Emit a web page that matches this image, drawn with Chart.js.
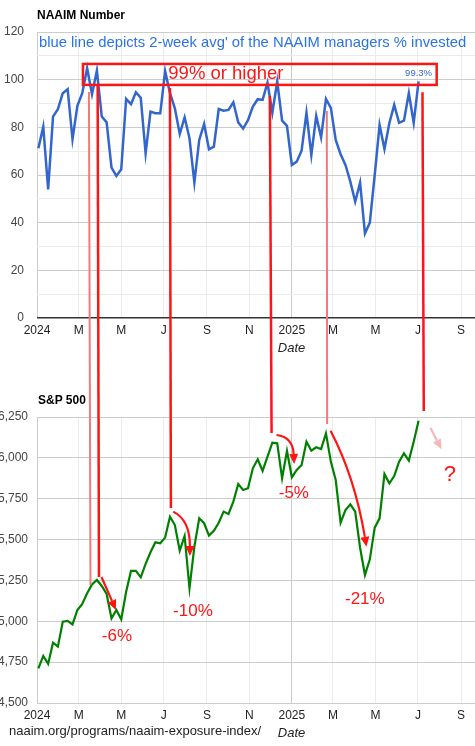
<!DOCTYPE html>
<html>
<head>
<meta charset="utf-8">
<title>NAAIM Number vs S&amp;P 500</title>
<script src="https://cdn.jsdelivr.net/npm/chart.js@4.4.1/dist/chart.umd.min.js"></script>
<style>
    html, body { margin: 0; padding: 0; background: #fff; }
    body { width: 475px; height: 746px; overflow: hidden; position: relative; font-family: Arial, "Liberation Sans", sans-serif; }
    canvas { position: absolute; left: 0; }
    #naaimChart { top: 0; }
    #spxChart { top: 380px; }
    #overlay { top: 0; pointer-events: none; }
    .lbl { position: absolute; white-space: nowrap; }
</style>
</head>
<body>
<canvas id="naaimChart" width="546" height="360"></canvas>
<canvas id="spxChart" width="546" height="366"></canvas>
<canvas id="overlay"></canvas>
<div class="lbl" style="left:37px; top:8px; font-size:12px; line-height:14px; font-weight:bold; color:#000;">NAAIM Number</div>
<div class="lbl" style="left:39px; top:34px; font-size:14.8px; line-height:17px; color:#2a73e6;">blue line depicts 2-week avg' of the NAAIM managers % invested</div>
<div class="lbl" style="left:38px; top:393px; font-size:12px; line-height:14px; font-weight:bold; color:#000;">S&amp;P 500</div>
<div class="lbl" style="left:9px; top:723px; font-size:13px; line-height:15px; color:#222;">naaim.org/programs/naaim-exposure-index/</div>
<script>
document.addEventListener('DOMContentLoaded', () => {
    const FONT = 'Arial, "Liberation Sans", sans-serif';

    // Weekly dates (Wednesdays)
    const weekDates = [
        '2024-01-03', '2024-01-10', '2024-01-17', '2024-01-24', '2024-01-31',
        '2024-02-07', '2024-02-14', '2024-02-21', '2024-02-28',
        '2024-03-06', '2024-03-13', '2024-03-20', '2024-03-27',
        '2024-04-03', '2024-04-10', '2024-04-17', '2024-04-24',
        '2024-05-01', '2024-05-08', '2024-05-15', '2024-05-22', '2024-05-29',
        '2024-06-05', '2024-06-12', '2024-06-19', '2024-06-26',
        '2024-07-03', '2024-07-10', '2024-07-17', '2024-07-24', '2024-07-31',
        '2024-08-07', '2024-08-14', '2024-08-21', '2024-08-28',
        '2024-09-04', '2024-09-11', '2024-09-18', '2024-09-25',
        '2024-10-02', '2024-10-09', '2024-10-16', '2024-10-23', '2024-10-30',
        '2024-11-06', '2024-11-13', '2024-11-20', '2024-11-27',
        '2024-12-04', '2024-12-11', '2024-12-18', '2024-12-25',
        '2025-01-01', '2025-01-08', '2025-01-15', '2025-01-22', '2025-01-29',
        '2025-02-05', '2025-02-12', '2025-02-19', '2025-02-26',
        '2025-03-05', '2025-03-12', '2025-03-19', '2025-03-26',
        '2025-04-02', '2025-04-09', '2025-04-16', '2025-04-23', '2025-04-30',
        '2025-05-07', '2025-05-14', '2025-05-21', '2025-05-28',
        '2025-06-04', '2025-06-11', '2025-06-18', '2025-06-25',
        '2025-07-02'
    ];

    // NAAIM exposure (2-week avg)
    const naaimValues = [
        71.2, 80.3, 54, 84.5, 87.6, 94.3, 96, 75, 89, 94.3,
        104.8, 93.9, 103.8, 84.5, 82.1, 63.1, 59.6, 62.4, 91.9, 89.7,
        94.7, 92.4, 69.1, 86.6, 85.9, 85.9, 103.6, 94.3, 88, 77.2,
        84.2, 75.4, 56.8, 74.7, 81.4, 70.8, 71.9, 87.7, 87, 87.3,
        90.5, 82.1, 79.5, 83, 88.7, 91.8, 91.5, 98.7, 86.1, 99.2,
        82.8, 80.6, 64.2, 65.6, 70.2, 86.1, 68.4, 84.8, 75.8, 91.9,
        88.2, 74.7, 68.7, 64.2, 57.2, 48.8, 56.8, 35.5, 40, 60,
        81, 70.9, 81.7, 89.4, 81.9, 82.8, 94.3, 81.9, 99.3
    ];

    // S&P 500 weekly closes
    const spxValues = [
        4712, 4788, 4739, 4869, 4845, 4997, 5002, 4981, 5069, 5106,
        5171, 5226, 5253, 5216, 5167, 5018, 5069, 5012, 5181, 5308,
        5308, 5269, 5351, 5422, 5483, 5477, 5512, 5640, 5589, 5432,
        5522, 5202, 5457, 5630, 5600, 5524, 5554, 5603, 5671, 5657,
        5732, 5840, 5803, 5814, 5936, 5991, 5920, 6007, 6093, 6089,
        5875, 6042, 5881, 5926, 5956, 6099, 6044, 6065, 6054, 6150,
        5977, 5865, 5603, 5681, 5716, 5671, 5450, 5283, 5379, 5573,
        5630, 5901, 5844, 5889, 5977, 6028, 5983, 6099, 6227
    ];

    // x axis ticks
    const tickDates = ['2024-01-01', '2024-03-01', '2024-05-01', '2024-07-01', '2024-09-01', '2024-11-01',
                       '2025-01-01', '2025-03-01', '2025-05-01', '2025-07-01', '2025-09-01', '2025-11-01'];
    const tickLabels = ['2024', 'M', 'M', 'J', 'S', 'N', '2025', 'M', 'M', 'J', 'S', 'N'];

    const naaimTicks = { min: 0, max: 120, step: 10, labelStep: 20 };
    const spxTicks = { min: 4500, max: 6250, step: 250 };

    // days since 2024-01-01
    const BASE = Date.UTC(2024, 0, 1);
    function toDay(s) {
        const [y, m, d] = s.split('-').map(Number);
        return (Date.UTC(y, m - 1, d) - BASE) / 864e5;
    }
    const weekDays = weekDates.map(toDay);
    const tickDays = tickDates.map(toDay);
    const X_MIN = toDay('2024-01-01');
    const X_MAX = toDay('2026-01-01');

    const SPX_TOP = 380; // page offset of the lower canvas

    function xAxis(height, titlePad) {
        return {
            type: 'linear',
            min: X_MIN,
            max: X_MAX,
            afterBuildTicks: s => { s.ticks = tickDays.map(v => ({ value: v })); },
            afterFit: s => { s.height = height; },
            ticks: {
                autoSkip: false, maxRotation: 0, padding: 5, color: '#222',
                font: { size: 12, family: FONT },
                callback: (v, i) => tickLabels[i]
            },
            grid: {
                drawTicks: false,
                color: c => (tickLabels[c.index] || '').length === 4 ? '#cccccc' : '#ebebeb'
            },
            border: { display: false },
            title: {
                display: true, text: 'Date', color: '#222',
                font: { size: 13, style: 'italic', family: FONT },
                padding: { top: 0, bottom: titlePad }
            }
        };
    }

    // "99.3%" label on the last point
    const lastValueLabel = {
        id: 'lastValueLabel',
        afterDatasetsDraw(chart) {
            const meta = chart.getDatasetMeta(0);
            const pt = meta.data[meta.data.length - 1];
            const ctx = chart.ctx;
            ctx.save();
            ctx.font = '9.5px ' + FONT;
            ctx.fillStyle = '#3366cc';
            ctx.textAlign = 'center';
            ctx.textBaseline = 'bottom';
            ctx.fillText(naaimValues[naaimValues.length - 1].toFixed(1) + '%', pt.x, pt.y - 3);
            ctx.restore();
        }
    };

    const naaimChart = new Chart(document.getElementById('naaimChart'), {
        type: 'line',
        data: {
            datasets: [{
                data: weekDays.map((d, i) => ({ x: d, y: naaimValues[i] })),
                borderColor: '#3366cc',
                borderWidth: 2.5,
                pointRadius: 0,
                tension: 0,
                fill: false
            }]
        },
        options: {
            responsive: false,
            animation: false,
            layout: { padding: { top: 32, left: 0, right: 0, bottom: 0 } },
            plugins: { legend: { display: false }, tooltip: { enabled: false } },
            scales: {
                x: xAxis(42, 4),
                y: {
                    min: naaimTicks.min, max: naaimTicks.max,
                    afterFit: s => { s.width = 37; },
                    ticks: {
                        stepSize: naaimTicks.step, padding: 13, color: '#444',
                        font: { size: 12, family: FONT },
                        callback: v => (v % naaimTicks.labelStep === 0 ? v : '')
                    },
                    grid: {
                        drawTicks: false,
                        color: c => c.tick.value === 0 ? '#333333' : (c.tick.value % naaimTicks.labelStep === 0 ? '#cccccc' : '#ebebeb'),
                        lineWidth: c => c.tick.value === 0 ? 1.5 : 1
                    },
                    border: { display: false }
                }
            }
        },
        plugins: [lastValueLabel]
    });

    const spxChart = new Chart(document.getElementById('spxChart'), {
        type: 'line',
        data: {
            datasets: [{
                data: weekDays.map((d, i) => ({ x: d, y: spxValues[i] })),
                borderColor: '#008000',
                borderWidth: 2.2,
                pointRadius: 0,
                tension: 0,
                fill: false
            }]
        },
        options: {
            responsive: false,
            animation: false,
            layout: { padding: { top: 37, left: 0, right: 0, bottom: 0 } },
            plugins: { legend: { display: false }, tooltip: { enabled: false } },
            scales: {
                x: xAxis(43, 5),
                y: {
                    min: spxTicks.min, max: spxTicks.max,
                    afterFit: s => { s.width = 37; },
                    ticks: {
                        stepSize: spxTicks.step, padding: 9, color: '#444',
                        font: { size: 12, family: FONT },
                        callback: v => v.toLocaleString('en-US')
                    },
                    grid: { drawTicks: false, color: '#cccccc' },
                    border: { display: false }
                }
            }
        }
    });

    // Hand-drawn style annotations, placed in data coordinates
    const RED = '#ff1414';
    const LIGHT = '#f27a7a';
    const PINK = '#f5b8b8';

    // vertical links: [day, naaim value] -> [day, s&p value]
    const links = [
        { top: [74.6, 94.8], bot: [76.8, 5222], color: LIGHT, w: 2 },
        { top: [87.1, 98.0], bot: [89.0, 5271], color: RED, w: 2.5 },
        { top: [190.9, 96.5], bot: [192.3, 5693], color: RED, w: 2.5 },
        { top: [334.4, 93.1], bot: [336.9, 6152], color: RED, w: 2.5 },
        { top: [416.2, 86.9], bot: [416.7, 6207], color: LIGHT, w: 2 },
        { top: [553.6, 94.7], bot: [555.5, 6287], color: RED, w: 2.5 }
    ];

    // arrows on the s&p chart: from, optional control, to
    const arrows = [
        { from: [92.6, 5271], to: [113.4, 5069], color: RED },
        { from: [195.6, 5671], ctrl: [219.6, 5620], to: [219.6, 5400], color: RED },
        { from: [344.0, 6140], ctrl: [367.4, 6128], to: [369.3, 5962], color: RED },
        { from: [421.6, 6166], ctrl: [456.4, 5883], to: [473.2, 5456], color: RED },
        { from: [565.1, 6183], to: [580.9, 6052], color: PINK }
    ];

    const drops = [
        { text: '-6%', at: [114.8, 4905], size: 17 },
        { text: '-10%', at: [223.9, 5060], size: 17 },
        { text: '-5%', at: [368.9, 5785], size: 17 },
        { text: '-21%', at: [470.8, 5135], size: 17 },
        { text: '?', at: [592.8, 5895], size: 22 }
    ];

    const highBox = { days: [66, 574], values: [97.8, 106.6], text: '99% or higher', textDay: 271.3, textValue: 100.1 };

    function drawOverlay() {
        const cv = document.getElementById('overlay');
        const dpr = window.devicePixelRatio || 1;
        cv.width = 546 * dpr;
        cv.height = 746 * dpr;
        cv.style.width = '546px';
        cv.style.height = '746px';
        const ctx = cv.getContext('2d');
        ctx.scale(dpr, dpr);

        const TX = d => naaimChart.scales.x.getPixelForValue(d);
        const TY = v => naaimChart.scales.y.getPixelForValue(v);
        const BX = d => spxChart.scales.x.getPixelForValue(d);
        const BY = v => SPX_TOP + spxChart.scales.y.getPixelForValue(v);

        ctx.lineCap = 'butt';

        // box
        ctx.strokeStyle = RED;
        ctx.lineWidth = 2.5;
        const x0 = TX(highBox.days[0]), x1 = TX(highBox.days[1]);
        const y0 = TY(highBox.values[1]), y1 = TY(highBox.values[0]);
        ctx.strokeRect(x0, y0, x1 - x0, y1 - y0);
        ctx.fillStyle = RED;
        ctx.font = '18.5px ' + FONT;
        ctx.textAlign = 'center';
        ctx.textBaseline = 'alphabetic';
        ctx.fillText(highBox.text, TX(highBox.textDay), TY(highBox.textValue));

        // links
        links.forEach(l => {
            ctx.strokeStyle = l.color;
            ctx.lineWidth = l.w;
            ctx.beginPath();
            ctx.moveTo(TX(l.top[0]), TY(l.top[1]));
            ctx.lineTo(BX(l.bot[0]), BY(l.bot[1]));
            ctx.stroke();
        });

        // arrows
        arrows.forEach(a => {
            const fx = BX(a.from[0]), fy = BY(a.from[1]);
            const tx = BX(a.to[0]), ty = BY(a.to[1]);
            let dx, dy;
            const head = 10, half = 4.5;
            ctx.strokeStyle = a.color;
            ctx.fillStyle = a.color;
            ctx.lineWidth = 2.2;
            if (a.ctrl) {
                const cx = BX(a.ctrl[0]), cy = BY(a.ctrl[1]);
                dx = tx - cx; dy = ty - cy;
            } else {
                dx = tx - fx; dy = ty - fy;
            }
            const len = Math.hypot(dx, dy);
            const ux = dx / len, uy = dy / len;
            const bx = tx - ux * head, by = ty - uy * head;
            ctx.beginPath();
            ctx.moveTo(fx, fy);
            if (a.ctrl) {
                ctx.quadraticCurveTo(BX(a.ctrl[0]), BY(a.ctrl[1]), bx, by);
            } else {
                ctx.lineTo(bx, by);
            }
            ctx.stroke();
            ctx.beginPath();
            ctx.moveTo(tx, ty);
            ctx.lineTo(bx - uy * half, by + ux * half);
            ctx.lineTo(bx + uy * half, by - ux * half);
            ctx.closePath();
            ctx.fill();
        });

        // percentage labels
        ctx.fillStyle = RED;
        ctx.textAlign = 'center';
        ctx.textBaseline = 'middle';
        drops.forEach(t => {
            ctx.font = t.size + 'px ' + FONT;
            ctx.fillText(t.text, BX(t.at[0]), BY(t.at[1]));
        });
    }

    drawOverlay();
});
</script>
</body>
</html>
